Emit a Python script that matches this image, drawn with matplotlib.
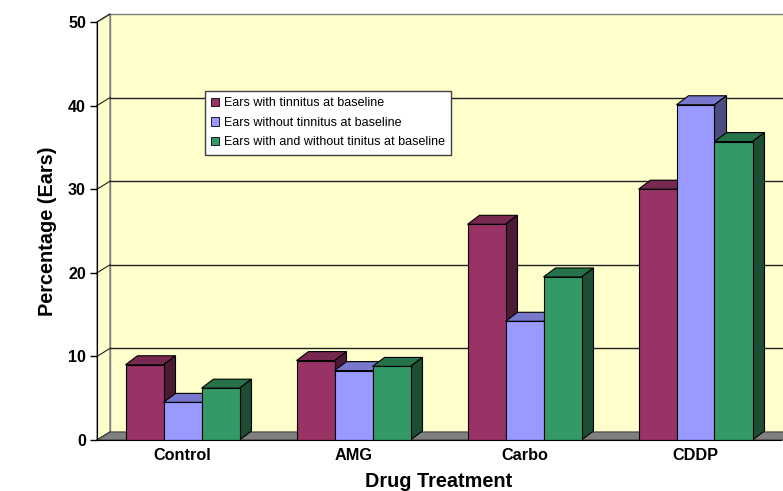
import matplotlib.pyplot as plt
from matplotlib.patches import Polygon, Patch

plt.rcParams['font.family'] = ['Liberation Sans', 'DejaVu Sans']

# data
treatments = ['Control', 'AMG', 'Carbo', 'CDDP']
series = ['Ears with tinnitus at baseline',
          'Ears without tinnitus at baseline',
          'Ears with and without tinitus at baseline']
with_tinnitus = [9.0, 9.5, 25.8, 30.0]
without_tinnitus = [4.5, 8.3, 14.2, 40.1]
all_ears = [6.2, 8.8, 19.5, 35.7]
yticks = [0, 10, 20, 30, 40, 50]

values = [with_tinnitus, without_tinnitus, all_ears]
front = ['#993366', '#9999FF', '#339966']
top = ['#772850', '#7777CC', '#267349']
side = ['#4D1A33', '#4D4D80', '#1D4D33']

fig = plt.figure(figsize=(7.83, 4.91), dpi=100)
W, H = 783, 491
ax = fig.add_axes([97 / W, (H - 440) / H, (781 - 97) / W, (440 - 22) / H])
ax.set_xlim(0, 4)
ax.set_ylim(0, 50)

# pixel -> data unit conversions
px = 4 / (781 - 97)
py = 50 / (440 - 22)
wdx, wdy = 13 * px, 8 * py      # wall depth
bdx, bdy = 12 * px, 9 * py      # bar depth
bw = 38 * px

# side wall, back wall, floor
ax.add_patch(Polygon([(0, 0), (0, 50), (wdx, 50 + wdy), (wdx, wdy)],
                     closed=True, fc='#FFFFCC', ec='#808080', lw=1, clip_on=False, zorder=0))
ax.add_patch(Polygon([(wdx, wdy), (wdx, 50 + wdy), (4.2, 50 + wdy), (4.2, wdy)],
                     closed=True, fc='#FFFFCC', ec='#808080', lw=1, clip_on=False, zorder=0))
for t in yticks[1:-1]:
    ax.plot([wdx, 4.2], [t + wdy, t + wdy], color='#202020', lw=1, clip_on=False, zorder=1)
for t in yticks:
    ax.plot([0, wdx], [t, t + wdy], color='#202020', lw=0.8, clip_on=False, zorder=1)
ax.add_patch(Polygon([(0, 0), (wdx, wdy), (4.2, wdy), (4.2, 0)],
                     closed=True, fc='#808080', ec='#404040', lw=0.8, clip_on=False, zorder=1))

# pseudo 3d bars
z = 2
for i in range(len(treatments)):
    x0 = i + 0.5 - 1.5 * bw
    for s in range(3):
        v = values[s][i]
        xl, xr = x0 + s * bw, x0 + (s + 1) * bw
        ax.add_patch(Polygon([(xl, v), (xl + bdx, v + bdy), (xr + bdx, v + bdy), (xr, v)],
                             closed=True, fc=top[s], ec='black', lw=0.8, zorder=z))
        ax.add_patch(Polygon([(xr, 0), (xr, v), (xr + bdx, v + bdy), (xr + bdx, bdy)],
                             closed=True, fc=side[s], ec='black', lw=0.8, zorder=z))
        ax.add_patch(Polygon([(xl, 0), (xl, v), (xr, v), (xr, 0)],
                             closed=True, fc=front[s], ec='black', lw=0.8, zorder=z))
        z += 1

for sp in ['top', 'right']:
    ax.spines[sp].set_visible(False)
ax.spines['left'].set_zorder(50)
ax.spines['bottom'].set_zorder(50)
ax.set_facecolor('none')

ax.set_yticks(yticks)
ax.set_yticklabels([str(t) for t in yticks], fontweight='bold', fontsize=11.5)
ax.tick_params(axis='y', length=5, width=1, direction='out', pad=3)
ax.set_xticks([i + 0.5 for i in range(len(treatments))])
ax.set_xticklabels(treatments, fontweight='bold', fontsize=11.7)
ax.tick_params(axis='x', length=0, pad=6)

ax.set_ylabel('Percentage (Ears)', fontweight='bold', fontsize=14.3, labelpad=8)
ax.set_xlabel('Drug Treatment', fontweight='bold', fontsize=14.3, labelpad=6)

handles = [Patch(fc=front[s], ec='black', lw=0.6) for s in range(3)]
leg = ax.legend(handles, series, loc='upper left', bbox_to_anchor=(205 / W, 1 - 91 / H),
                bbox_transform=fig.transFigure, fancybox=False, borderaxespad=0,
                fontsize=9, handlelength=0.65, handleheight=0.65, handletextpad=0.35,
                labelspacing=0.6, borderpad=0.5, framealpha=1, edgecolor='#404040')
leg.get_frame().set_linewidth(1)
leg.set_zorder(60)

fig.savefig('out.png', dpi=100)
